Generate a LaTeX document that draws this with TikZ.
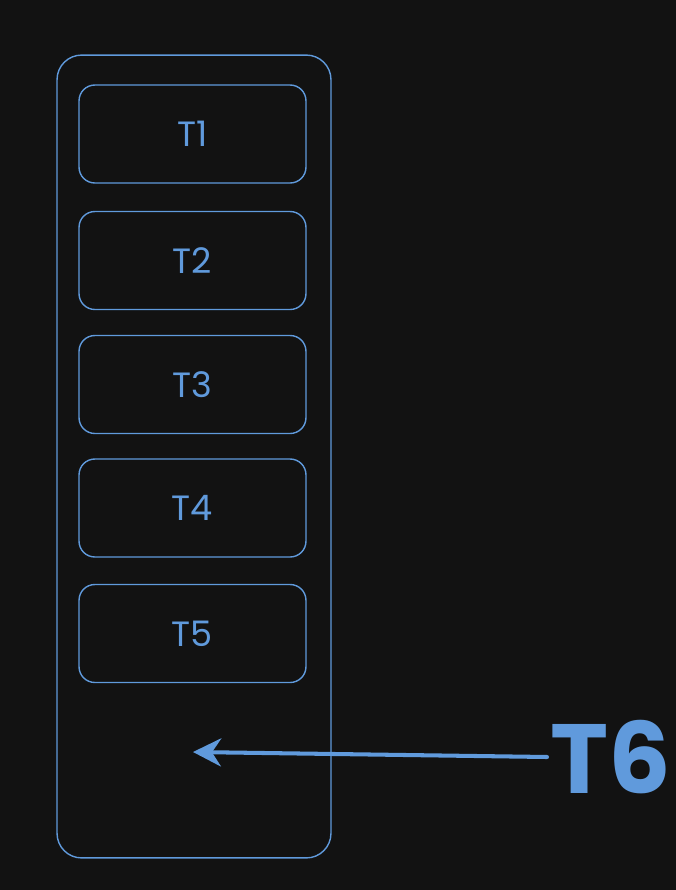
\documentclass[tikz,border=0pt]{standalone}
\usepackage{fontspec}
\setmainfont{Poppins}
\usepackage{xcolor}
\usetikzlibrary{arrows.meta}

\definecolor{sketchblue}{RGB}{96,154,220}
\definecolor{darkbg}{RGB}{18,18,18}

\tikzset{
    slot/.style={draw=sketchblue, line width=0.8pt, rounded corners=9pt,
        minimum width=4.54cm, minimum height=1.96cm,
        text=sketchblue, font=\fontsize{20}{24}\selectfont},
}

\begin{document}
\begin{tikzpicture}[x=0.02cm,y=-0.02cm]
            \fill[darkbg] (0,0) rectangle (676,890);
            \useasboundingbox (0,0) rectangle (676,890);

            % outer container
            \node[draw=sketchblue, line width=0.8pt, rounded corners=14pt,
                minimum width=5.48cm, minimum height=16.06cm] (stack) at (194,456.5) {};

            % the five slots
            \node[slot] (t1) at (192.5,134) {T1};
            \node[slot] (t2) at (192.5,260.5) {T2};
            \node[slot] (t3) at (192.5,384.5) {T3};
            \node[slot] (t4) at (192.5,508) {T4};
            \node[slot] (t5) at (192.5,633.5) {T5};

            % incoming item
            \node[text=sketchblue, font=\bfseries\fontsize{56}{64}\selectfont, anchor=west, inner sep=0pt] (t6) at (550,757) {T6};
            \coordinate (free) at (193,752);
            \draw[sketchblue, line width=2.3pt, line cap=round, -{Stealth[length=16pt,width=16pt]}] (t6.west) ++(-3,0) -- (free);
        \end{tikzpicture}
\end{document}
